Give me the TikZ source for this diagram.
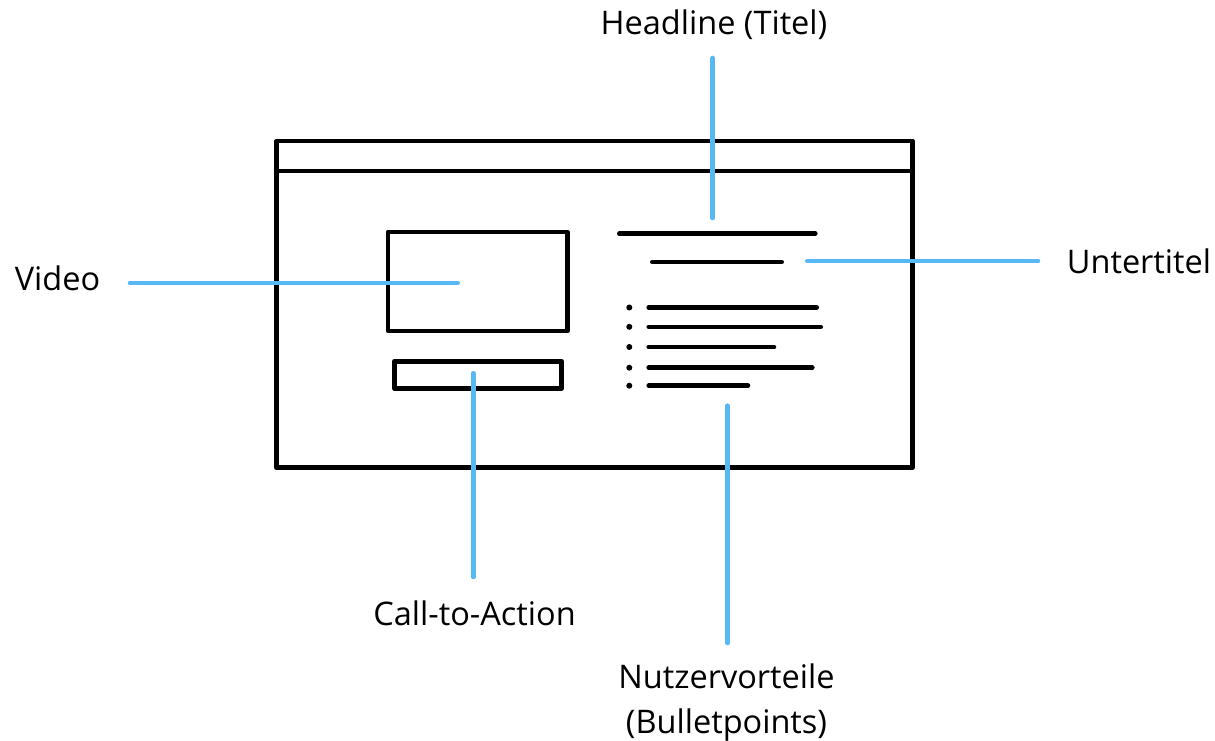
\documentclass[tikz,border=0pt]{standalone}
\usepackage{fontspec}
\setmainfont{Open Sans}
\definecolor{callout}{HTML}{58B8F5}
\begin{document}
\begin{tikzpicture}[x=1pt,y=-1pt,
  frame/.style={draw=black,line width=4.8pt,line join=round},
  textbar/.style={draw=black,line width=4.6pt,line cap=round},
  bulletdot/.style={fill=black},
  leader/.style={draw=callout,line width=4.6pt,line cap=round},
  lbl/.style={font=\fontsize{32.5}{45}\selectfont,inner sep=0pt,anchor=base}]
\useasboundingbox (0,0) rectangle (1215,741);
% browser window
\draw[frame] (276.5,141) rectangle (912.3,467.7);
\draw[frame] (276.5,171) -- (912.3,171);
% video and CTA
\draw[frame] (388,232) rectangle (567.3,331);
\draw[frame] (394.3,361.3) rectangle (561.7,388.3);
% headline and subtitle bars
\draw[textbar] (619.3,233.7) -- (815.3,233.7);
\draw[textbar] (652.3,262) -- (781.7,262);
% bullets
\foreach \yy/\xe in {307.5/816.7,326.8/820.7,347/774,367.7/812.3,385.7/748}{
  \fill[bulletdot] (629.3,\yy) circle (3pt);
  \draw[textbar] (648.7,\yy) -- (\xe,\yy);
}
% labels
\node[lbl] (headline) at (714,35) {Headline (Titel)};
\node[lbl] (video) at (57.5,290) {Video};
\node[lbl] (untertitel) at (1139,273) {Untertitel};
\node[lbl] (cta) at (474.5,625) {Call-to-Action};
\node[lbl,align=center] (nutzer) at (726.5,733) {Nutzervorteile\\(Bulletpoints)};
% leader endpoints
\coordinate (hA) at (712.7,58); \coordinate (hB) at (712.7,218);
\coordinate (vA) at (130,283); \coordinate (vB) at (457.7,283);
\coordinate (uA) at (807.3,261); \coordinate (uB) at (1038,261);
\coordinate (cA) at (473.3,373.3); \coordinate (cB) at (473.3,577);
\coordinate (nA) at (727.3,405.7); \coordinate (nB) at (727.3,643);
\draw[leader] (hA) -- (hB);
\draw[leader] (vA) -- (vB);
\draw[leader] (uA) -- (uB);
\draw[leader] (cA) -- (cB);
\draw[leader] (nA) -- (nB);
\end{tikzpicture}
\end{document}
